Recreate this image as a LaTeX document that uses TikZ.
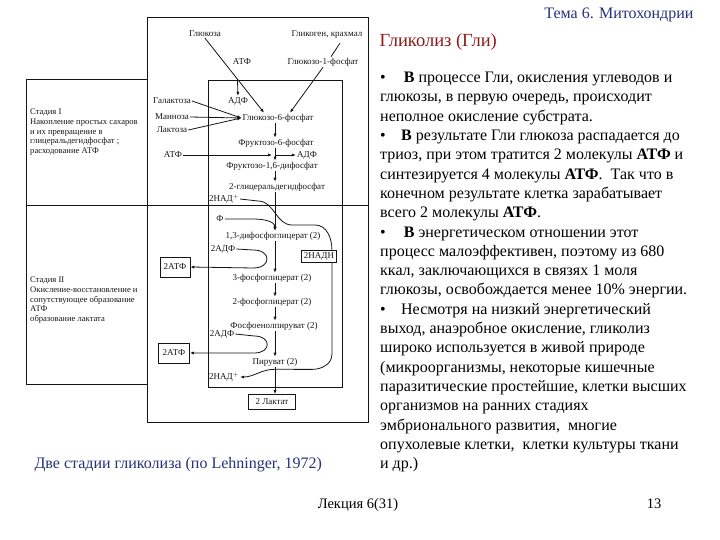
\documentclass[tikz,border=0pt]{standalone}
\usepackage{fontspec}
\setmainfont{Liberation Serif}
\usetikzlibrary{arrows.meta,positioning,calc}
\definecolor{ThemeNavy}{HTML}{27307A}
\definecolor{HeadRed}{HTML}{8E1A1A}
\definecolor{ScanInk}{HTML}{151515}
\newcommand{\bulit}{\makebox[21pt][l]{•}}

\begin{document}
\begin{tikzpicture}[x=1pt,y=-1pt,
  met/.style={font=\fontsize{9}{10}\selectfont,inner sep=1pt,text=ScanInk},
  stage/.style={font=\fontsize{8.6}{9.6}\selectfont,inner sep=0pt,anchor=north west,align=left,text=ScanInk},
  sbox/.style={met,draw=ScanInk,thick},
  flow/.style={ScanInk,thick,-{Latex[length=4pt,width=3.2pt]}},
  wire/.style={ScanInk,thick},
  frame/.style={ScanInk,line width=0.9pt}]
  \useasboundingbox (0,0) rectangle (720,540);

  % frames of the scanned scheme
  \draw[frame] (147,17) rectangle (368,422);
  \draw[frame] (208,80) rectangle (342,387);
  \draw[frame] (147,79) -- (26,79) -- (26,384) -- (147,384);
  \draw[frame] (26,205) -- (368,205);
  \node[stage] (stI) at (30,109) {Стадия I\\Накопление простых сахаров\\и их превращение в\\глицеральдегидфосфат ;\\расходование АТФ};
  \node[stage] (stII) at (30,277) {Стадия II\\Окисление-восстановление и\\сопутствующее образование\\ АТФ\\образование лактата};

  % stage I
  \coordinate (spine) at (275,0);
  \node[met] (glc) at (205,34) {Глюкоза};
  \node[met] (glyc) at (327,35) {Гликоген, крахмал};
  \node[met] (atpGlc) at (242,62) {АТФ};
  \node[met] (g1p) at (323,62) {Глюкозо-1-фосфат};
  \node[met] (adpGlc) at (238,101) {АДФ};
  \node[met] (gal) at (172,101) {Галактоза};
  \node[met] (man) at (172,117) {Манноза};
  \node[met] (lact) at (172,130) {Лактоза};
  \node[met] (g6p) at (278,118) {Глюкозо-6-фосфат};
  \node[met] (f6p) at (276,143) {Фруктозо-6-фосфат};
  \node[met] (atpF) at (173,155) {АТФ};
  \node[met] (adpF) at (307,155) {АДФ};
  \node[met] (fbp) at (272,166) {Фруктозо-1,6-дифосфат};
  \node[met] (gap) at (277,187) {2-глицеральдегидфосфат};

  % stage II
  \node[met] (nadIn) at (224,199) {2НАД$^+$};
  \node[met] (phos) at (220,219) {Ф};
  \node[met] (bpg) at (273,236) {1,3-дифосфоглицерат (2)};
  \node[met] (adpA) at (223,249) {2АДФ};
  \node[sbox,minimum width=35pt,minimum height=12pt] (nadh) at (319,256) {2НАДН};
  \node[sbox,minimum width=30pt,minimum height=20pt] (atpA) at (175,267) {2АТФ};
  \node[met] (pgc3) at (272,278) {3-фосфоглицерат (2)};
  \node[met] (pgc2) at (272,302) {2-фосфоглицерат (2)};
  \node[met] (pep) at (274,326) {Фосфоенолпируват (2)};
  \node[met] (adpB) at (222,334) {2АДФ};
  \node[sbox,minimum width=31pt,minimum height=20pt] (atpB) at (174,353) {2АТФ};
  \node[met] (pyr) at (275,362) {Пируват (2)};
  \node[met] (nadOut) at (224,377) {2НАД$^+$};
  \node[sbox,minimum width=47pt,minimum height=15pt] (lac) at (272,402) {2 Лактат};

  \coordinate (g6pTop) at ($(g6p.north)+(-14,0)$);
  \draw[flow] (glc.south) -- (g6pTop);
  \draw[flow] ($(glc.south)!0.55!(g6pTop)$) -- (adpGlc.north);
  \draw[wire] ($(glyc.south)+(13,3)$) -- ($(g1p.north)+(8,0)$);
  \draw[flow] (g1p.south) -- ($(g6p.north)+(12,0)$);
  \foreach \s in {gal,man,lact}
    \draw[flow] (\s.east) -- (g6p.west);
  \coordinate (fjoint) at (spine |- atpF);
  \draw[flow] (atpF.east) -- ($(fjoint)+(-3,0)$);
  \draw[flow] (fjoint) -- (adpF.west);
  \foreach \a/\b in {g6p/f6p,f6p/fbp,fbp/gap,gap/bpg,bpg/pgc3,pgc3/pgc2,pgc2/pep,pep/pyr,pyr/lac}
    \draw[flow] (\a.south -| spine) -- (\b.north -| spine);

  \draw[wire] (nadIn.east) -- ++(18,2) to[out=0,in=180] ++(34,24) -- ++(23,0)
    to[out=0,in=90] ($(nadh.north east)+(-5,0)$);
  \draw[flow] (phos.east) -- ++(28,0) to[out=0,in=90] (bpg.north -| spine);
  \draw[flow] (adpA.east) -- ++(17,1) to[out=0,in=0,looseness=2.6] ++(0,18) -- (atpA.east);
  \draw[flow] (adpB.east) -- ++(19,2) to[out=0,in=0,looseness=2.6] ++(0,17) -- (atpB.east);
  \coordinate (redx) at ($(pyr.south -| spine)+(0,2)$);
  \draw[wire] ($(nadh.south east)+(-5,0)$) -- ++(0,92) to[out=-90,in=0] ++(-20,15) -- (redx);
  \draw[flow] (redx) to[out=180,in=0] (nadOut.east);

  % slide texts
  \node[anchor=base east,text=ThemeNavy,font=\fontsize{16}{18}\selectfont] (theme) at (697,19) {Тема 6. Митохондрии};
  \node[anchor=base west,text=HeadRed,font=\fontsize{18.5}{20}\selectfont] (head) at (376,47) {Гликолиз (Гли)};
  \node[anchor=north west,inner sep=0pt,align=left,font=\fontsize{16}{19.3}\selectfont] (body) at (380,72) {%
    \bulit\,\textbf{В} процессе Гли, окисления углеводов и\\
    глюкозы, в первую очередь, происходит\\
    неполное окисление субстрата.\\
    \bulit\textbf{В} результате Гли глюкоза распадается до\\
    триоз, при этом тратится 2 молекулы \textbf{АТФ} и\\
    синтезируется 4 молекулы \textbf{АТФ}.\ \ Так что в\\
    конечном результате клетка зарабатывает\\
    всего 2 молекулы \textbf{АТФ}.\\
    \bulit\,\textbf{В} энергетическом отношении этот\\
    процесс малоэффективен, поэтому из 680\\
    ккал, заключающихся в связях 1 моля\\
    глюкозы, освобождается менее 10\% энергии.\\
    \bulit Несмотря на низкий энергетический\\
    выход, анаэробное окисление, гликолиз\\
    широко используется в живой природе\\
    (микроорганизмы, некоторые кишечные\\
    паразитические простейшие, клетки высших\\
    организмов на ранних стадиях\\
    эмбрионального развития,\ \ многие\\
    опухолевые клетки,\ \ клетки культуры ткани\\
    и др.)};
  \node[anchor=base west,text=ThemeNavy,font=\fontsize{16}{18}\selectfont] (caption) at (31,468) {Две стадии гликолиза (по Lehninger, 1972)};
  \node[anchor=base,font=\fontsize{14.5}{16}\selectfont] (lecture) at (358,508) {Лекция 6(31)};
  \node[anchor=base,font=\fontsize{14.5}{16}\selectfont] (pageno) at (654,508) {13};
\end{tikzpicture}
\end{document}
